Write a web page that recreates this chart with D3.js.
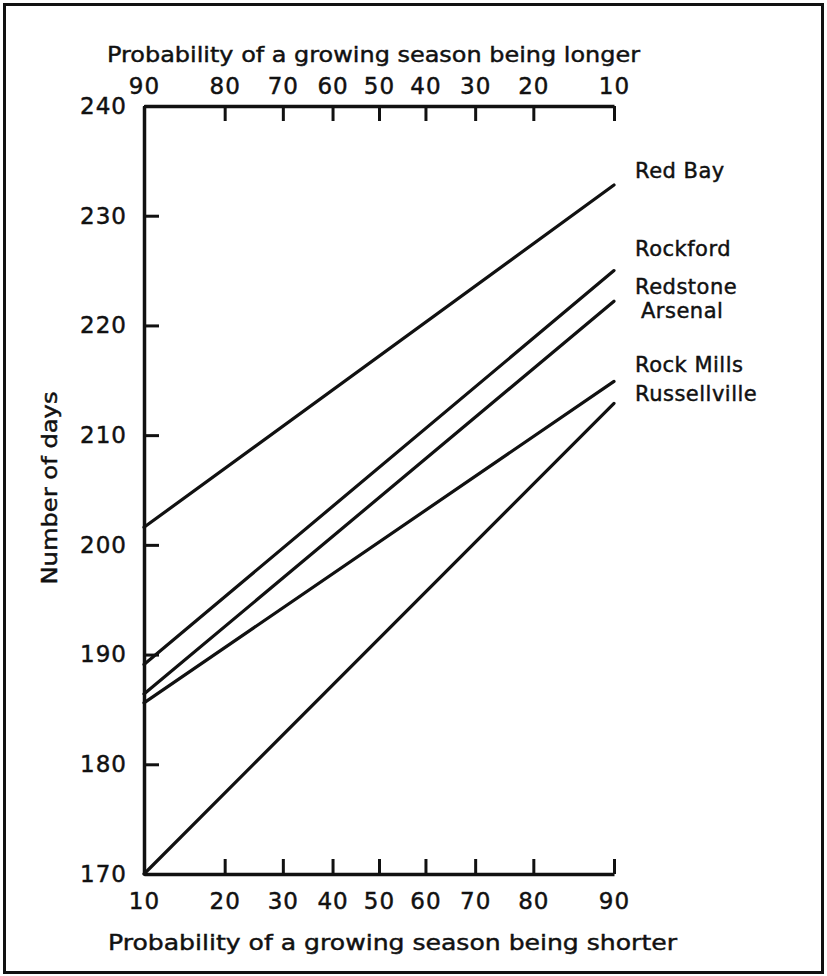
<!DOCTYPE html>
<html>
<head>
<meta charset="utf-8">
<script src="https://cdn.jsdelivr.net/npm/d3@7"></script>
<style>
  body { margin: 0; background: #fff; }
  svg text { font-family: "DejaVu Sans", sans-serif; fill: #111; stroke: #111; stroke-width: 0.45px; }
</style>
</head>
<body>
<script>
// Growing season length vs probability, plotted on a normal probability scale

const stations = ['Red Bay', 'Rockford', 'Redstone Arsenal', 'Rock Mills', 'Russellville'];
// number of days at 10% and 90% probability of a shorter season
const daysAt10 = [201.6, 189.1, 186.4, 185.6, 170.0];
const daysAt90 = [232.8, 225.0, 222.2, 214.9, 212.9];
const shorterTicks = [10, 20, 30, 40, 50, 60, 70, 80, 90];
const dayTicks = [170, 180, 190, 200, 210, 220, 230, 240];

// label layout (pixel offset of text baseline from line end)
const labelLines = [['Red Bay'], ['Rockford'], ['Redstone', 'Arsenal'], ['Rock Mills'], ['Russellville']];
const labelDy = [-7, -15, -7, -9, -2];

const width = 827;
const height = 976;
const margin = { left: 144, right: 215, top: 106, bottom: 102 };

// inverse normal CDF (Acklam), used for the probability axis
const probit = function (p) {
  const a = [-39.69683028665376, 220.9460984245205, -275.9285104469687, 138.3577518672690, -30.66479806614716, 2.506628277459239];
  const b = [-54.47609879822406, 161.5858368580409, -155.6989798598866, 66.80131188771972, -13.28068155288572];
  const c = [-0.007784894002430293, -0.3223964580411365, -2.400758277161838, -2.549732539343734, 4.374664141464968, 2.938163982698783];
  const d = [0.007784695709041462, 0.3224671290700398, 2.445134137142996, 3.754408661907416];
  const pl = 0.02425;
  let q, r;
  if (p < pl) {
    q = Math.sqrt(-2 * Math.log(p));
    return (((((c[0] * q + c[1]) * q + c[2]) * q + c[3]) * q + c[4]) * q + c[5]) / ((((d[0] * q + d[1]) * q + d[2]) * q + d[3]) * q + 1);
  }
  if (p > 1 - pl) {
    q = Math.sqrt(-2 * Math.log(1 - p));
    return -(((((c[0] * q + c[1]) * q + c[2]) * q + c[3]) * q + c[4]) * q + c[5]) / ((((d[0] * q + d[1]) * q + d[2]) * q + d[3]) * q + 1);
  }
  q = p - 0.5;
  r = q * q;
  return (((((a[0] * r + a[1]) * r + a[2]) * r + a[3]) * r + a[4]) * r + a[5]) * q / (((((b[0] * r + b[1]) * r + b[2]) * r + b[3]) * r + b[4]) * r + 1);
};

const x = d3.scaleLinear()
  .domain([probit(0.1), probit(0.9)])
  .range([margin.left, width - margin.right + 2]);
const xp = (pct) => x(probit(pct / 100));

const y = d3.scaleLinear()
  .domain([170, 240])
  .range([height - margin.bottom, margin.top]);

const svg = d3.select('body').append('svg')
  .attr('width', width)
  .attr('height', height);

svg.append('rect')
  .attr('x', 4.5)
  .attr('y', 4.5)
  .attr('width', 818)
  .attr('height', 968)
  .attr('fill', 'none')
  .attr('stroke', '#111')
  .attr('stroke-width', 3);

const styleAxis = function (g, lineWidth) {
  g.attr('font-size', null).attr('font-family', null);
  g.select('.domain').attr('stroke', '#111').attr('stroke-width', lineWidth);
  g.selectAll('.tick line').attr('stroke', '#111').attr('stroke-width', 3);
  g.selectAll('.tick text')
    .style('font-size', '23px')
    .style('letter-spacing', '1px');
};

// bottom axis: probability of being shorter
const bottomAxis = d3.axisBottom(x)
  .tickValues(shorterTicks.map((p) => probit(p / 100)))
  .tickFormat((d, i) => shorterTicks[i])
  .tickSizeInner(-15)
  .tickSizeOuter(0)
  .tickPadding(19);
svg.append('g')
  .attr('transform', `translate(0,${y(170)})`)
  .call(bottomAxis)
  .call(styleAxis, 3.5);

// top axis: probability of being longer
const topAxis = d3.axisTop(x)
  .tickValues(shorterTicks.map((p) => probit(p / 100)))
  .tickFormat((d, i) => 100 - shorterTicks[i])
  .tickSizeInner(-15)
  .tickSizeOuter(0)
  .tickPadding(12);
svg.append('g')
  .attr('transform', `translate(0,${y(240)})`)
  .call(topAxis)
  .call(styleAxis, 3.5);

const leftAxis = d3.axisLeft(y)
  .tickValues(dayTicks)
  .tickSizeInner(-15)
  .tickSizeOuter(0)
  .tickPadding(17);
svg.append('g')
  .attr('transform', `translate(${margin.left},0)`)
  .call(leftAxis)
  .call(styleAxis, 3.5);

// axis titles
svg.append('text')
  .attr('x', 107)
  .attr('y', 62)
  .attr('textLength', 533)
  .attr('lengthAdjust', 'spacingAndGlyphs')
  .style('font-size', '22px')
  .text('Probability of a growing season being longer');

svg.append('text')
  .attr('x', 108)
  .attr('y', 950)
  .attr('textLength', 569)
  .attr('lengthAdjust', 'spacingAndGlyphs')
  .style('font-size', '22px')
  .text('Probability of a growing season being shorter');

svg.append('text')
  .attr('transform', 'translate(57,488) rotate(-90)')
  .attr('text-anchor', 'middle')
  .attr('textLength', 193)
  .attr('lengthAdjust', 'spacingAndGlyphs')
  .style('font-size', '21px')
  .text('Number of days');

// station lines
svg.append('g')
  .selectAll('line')
  .data(stations)
  .join('line')
  .attr('x1', xp(10))
  .attr('y1', (d, i) => y(daysAt10[i]))
  .attr('x2', xp(90))
  .attr('y2', (d, i) => y(daysAt90[i]))
  .attr('stroke', '#111')
  .attr('stroke-width', 3.2)
  .attr('stroke-linecap', 'round');

// station labels
const labels = svg.append('g')
  .selectAll('text')
  .data(stations)
  .join('text')
  .attr('x', xp(90) + 21)
  .attr('y', (d, i) => y(daysAt90[i]) + labelDy[i])
  .style('font-size', '21px')
  .style('letter-spacing', '0.5px');

labels.each(function (d, i) {
  const t = d3.select(this);
  labelLines[i].forEach((line, j) => {
    t.append('tspan')
      .attr('x', xp(90) + 21 + (j > 0 ? 6 : 0))
      .attr('dy', j === 0 ? 0 : 24)
      .text(line);
  });
});
</script>
</body>
</html>
